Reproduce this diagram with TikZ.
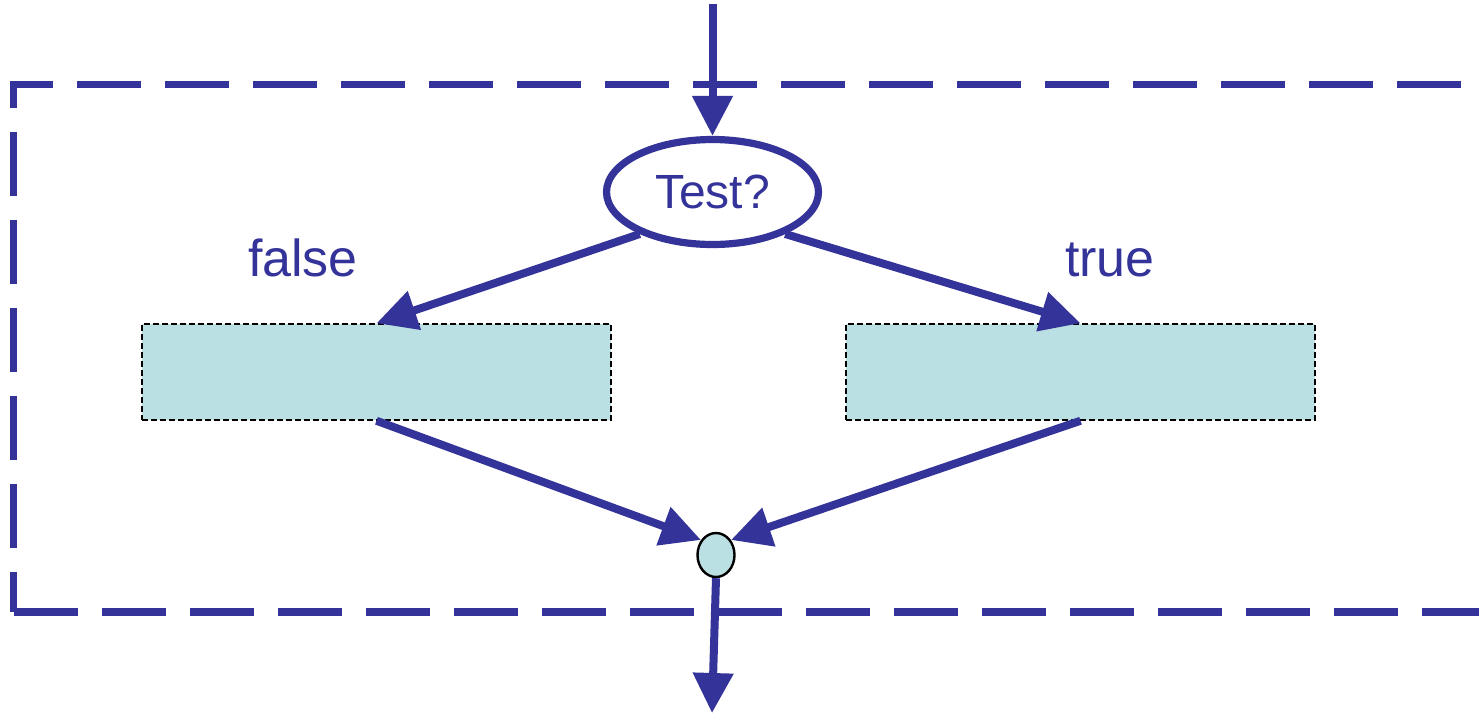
\documentclass[tikz,border=0pt]{standalone}
\usepackage{fontspec}
\setmainfont{Liberation Sans}
\usetikzlibrary{shapes.geometric,arrows.meta}
\definecolor{navy}{RGB}{51,51,153}
\definecolor{aqua}{RGB}{187,224,227}
\begin{document}
\begin{tikzpicture}[x=0.5pt,y=-0.5pt,
  flow/.style={draw=navy,line width=4pt,-{Triangle[length=20pt,width=19.5pt]}},
  border/.style={draw=navy,line width=3.75pt,dash pattern=on 32pt off 12pt},
  block/.style={draw=black,fill=aqua,line width=0.75pt,dash pattern=on 3pt off 1.5pt,minimum width=234.5pt,minimum height=48pt,inner sep=0pt},
  testnode/.style={draw=navy,line width=3.6pt,ellipse,minimum width=106pt,minimum height=52.5pt,inner sep=0pt,text=navy,font=\fontsize{24}{28}\selectfont},
  junction/.style={ellipse,draw=black,fill=aqua,line width=1.2pt,minimum width=18.5pt,minimum height=22pt,inner sep=0pt},
  lbl/.style={text=navy,font=\fontsize{26}{31}\selectfont,inner sep=0pt,anchor=base}]
\useasboundingbox (0,0) rectangle (1479,714);
\clip (0,0) rectangle (1479,714);
% dashed frame (right side lies outside the picture)
\draw[border,dash phase=10.4pt] (9.75,84.5) -- (1490,84.5);
\draw[border,dash phase=12pt] (13.5,612) -- (13.5,84.5);
\draw[border] (13.5,612) -- (1490,612);
% nodes
\node[testnode] (test) at (712.5,192) {\raisebox{-1.3pt}{Test?}};
\node[block] (fbox) at (376.5,372) {};
\node[block] (rbox) at (1080.5,372) {};
\node[junction] (join) at (716,555) {};
\node[lbl] (lf) at (303,276.7) {false};
\node[lbl] (lt) at (1110,276.7) {true};
\coordinate (top) at (712.5,4);
\coordinate (bot) at (712,713);
% connectors
\draw[flow] (top) -- (test.north);
\draw[flow] (test.210) -- (fbox.north);
\draw[flow] (test.330) -- (rbox.north);
\draw[flow] (fbox.south) -- (join.135);
\draw[flow] (rbox.south) -- (join.45);
\draw[flow] (join.south) -- (bot);
\end{tikzpicture}
\end{document}
